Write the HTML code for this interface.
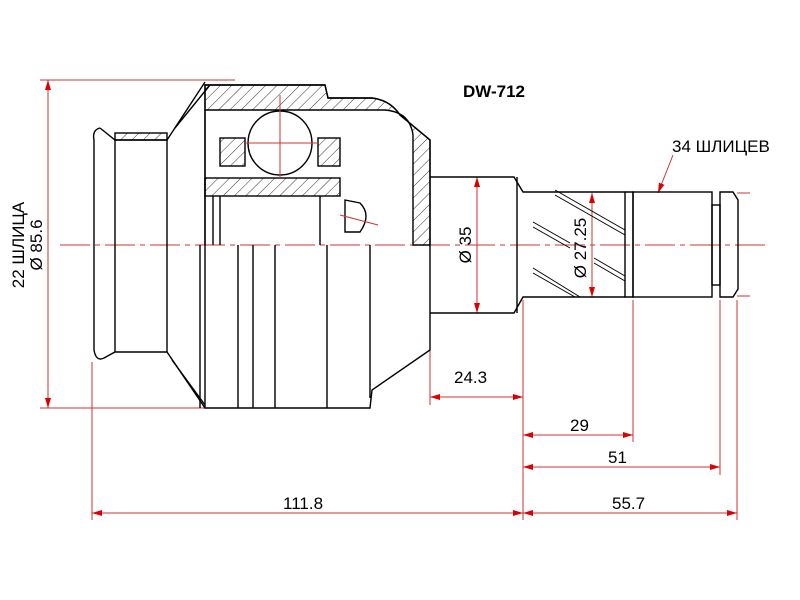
<!DOCTYPE html>
<html><head><meta charset="utf-8"><style>body{margin:0;background:#fff}svg{display:block}</style></head><body>
<svg width="800" height="600" viewBox="0 0 800 600" xmlns="http://www.w3.org/2000/svg" font-family="Liberation Sans, sans-serif">
<defs>
<pattern id="h" width="8" height="8" patternUnits="userSpaceOnUse" patternTransform="rotate(45)"><line x1="0" y1="0" x2="0" y2="8" stroke="#000" stroke-width="0.8"/></pattern>
<marker id="a" markerWidth="10" markerHeight="6" refX="10" refY="3" orient="auto-start-reverse" markerUnits="userSpaceOnUse"><path d="M0,0 L10,3 L0,6z" fill="#d00"/></marker>
</defs>
<g stroke="#c33" stroke-width="1" fill="none">
<line x1="40" y1="80" x2="235" y2="80"/><line x1="40" y1="408" x2="205" y2="408"/>
<line x1="48" y1="80" x2="48" y2="408" marker-start="url(#a)" marker-end="url(#a)"/>
<line x1="60" y1="245" x2="770" y2="245" stroke-dasharray="30,5,5,5"/>
<line x1="92" y1="362" x2="92" y2="520"/><line x1="430" y1="350" x2="430" y2="405"/>
<line x1="523" y1="300" x2="523" y2="520"/><line x1="633" y1="300" x2="633" y2="442"/>
<line x1="720" y1="300" x2="720" y2="475"/><line x1="737" y1="300" x2="737" y2="520"/>
<line x1="737" y1="193" x2="750" y2="193"/><line x1="737" y1="296" x2="750" y2="296"/>
<line x1="430" y1="397" x2="523" y2="397" marker-start="url(#a)" marker-end="url(#a)"/>
<line x1="523" y1="435" x2="633" y2="435" marker-start="url(#a)" marker-end="url(#a)"/>
<line x1="523" y1="467" x2="720" y2="467" marker-start="url(#a)" marker-end="url(#a)"/>
<line x1="92" y1="513" x2="523" y2="513" marker-start="url(#a)" marker-end="url(#a)"/>
<line x1="523" y1="513" x2="737" y2="513" marker-start="url(#a)" marker-end="url(#a)"/>
<line x1="477" y1="177" x2="477" y2="313" marker-start="url(#a)" marker-end="url(#a)"/>
<line x1="592" y1="193" x2="592" y2="297" marker-start="url(#a)" marker-end="url(#a)"/>
<line x1="673" y1="155" x2="658" y2="193" marker-end="url(#a)"/>
</g>
<g stroke="#000" stroke-width="1.4" fill="none">
<path d="M100,128 Q92,130 94,140 L94,350 Q96,362 104,358 L115,352 L167,352 L205,408" />
<path d="M100,128 L115,140 L167,140 L205,82"/>
<rect x="115" y="133" width="52" height="7" fill="url(#h)"/>
<line x1="115" y1="140" x2="115" y2="352"/><line x1="167" y1="140" x2="167" y2="352"/>
<line x1="175" y1="128" x2="210" y2="85"/><line x1="172" y1="360" x2="205" y2="405"/>
<path d="M205,85 L325,85 L328,98 L372,98 Q390,100 400,115 L430,140 L430,350 L372,390 L370,408 L205,408 Z"/>
<path d="M205,85 L325,85 L328,98 L372,98 Q390,100 400,115 L430,140 L430,245 L413,245 L413,135 Q410,112 385,110 L205,110 Z" fill="url(#h)"/>
<rect x="205" y="178" width="135" height="18" fill="url(#h)"/>
<rect x="220" y="138" width="25" height="28" fill="url(#h)"/><rect x="318" y="138" width="22" height="28" fill="url(#h)"/>
<circle cx="280" cy="143" r="32" fill="#fff"/>
<path d="M345,200 L360,203 Q372,215 360,232 L345,232 Z"/>
<line x1="213" y1="196" x2="213" y2="245"/><line x1="220" y1="196" x2="220" y2="245"/><line x1="320" y1="196" x2="320" y2="245"/>
<line x1="200" y1="245" x2="200" y2="408"/><line x1="238" y1="245" x2="238" y2="408"/><line x1="253" y1="245" x2="253" y2="408"/>
<line x1="275" y1="245" x2="275" y2="408"/><line x1="327" y1="245" x2="327" y2="408"/><line x1="370" y1="245" x2="370" y2="398"/>
<line x1="205" y1="110" x2="205" y2="245"/>
<path d="M430,177 L514,177 L523,192 L625,192 L625,297 L523,297 L514,313 L430,313"/>
<line x1="517" y1="177" x2="517" y2="313"/>
<path d="M625,192 L633,192 L633,297 L625,297"/>
<rect x="633" y="192" width="79" height="105"/>
<rect x="712" y="205" width="8" height="80"/>
<path d="M720,192 L733,192 L738,200 L738,289 L733,297 L720,297 Z"/>
<g stroke-width="1"><line x1="555" y1="190" x2="625" y2="230"/><line x1="555" y1="195" x2="625" y2="235"/>
<line x1="533" y1="222" x2="570" y2="243"/><line x1="533" y1="227" x2="570" y2="248"/>
<line x1="533" y1="268" x2="580" y2="297"/><line x1="533" y1="273" x2="575" y2="297"/>
<line x1="594" y1="258" x2="625" y2="276"/><line x1="594" y1="263" x2="625" y2="281"/></g>
</g>
<g stroke="#c33" stroke-width="1" fill="none">
<line x1="280" y1="95" x2="280" y2="178"/><line x1="245" y1="143" x2="318" y2="143"/>
<line x1="340" y1="215" x2="378" y2="225"/>
</g>
<g font-size="17" fill="#000">
<text x="463" y="97" font-weight="bold">DW-712</text>
<text x="672" y="152">34 ШЛИЦЕВ</text>
<text x="454" y="383">24.3</text><text x="570" y="431">29</text><text x="608" y="463">51</text>
<text x="283" y="509">111.8</text><text x="612" y="509">55.7</text>
<text transform="translate(24,245) rotate(-90)" text-anchor="middle">22 ШЛИЦА</text>
<text transform="translate(42,245) rotate(-90)" text-anchor="middle">Ø 85.6</text>
<text transform="translate(471,245) rotate(-90)" text-anchor="middle">Ø 35</text>
<text transform="translate(586,248) rotate(-90)" text-anchor="middle">Ø 27.25</text>
</g>
</svg>
</body></html>
